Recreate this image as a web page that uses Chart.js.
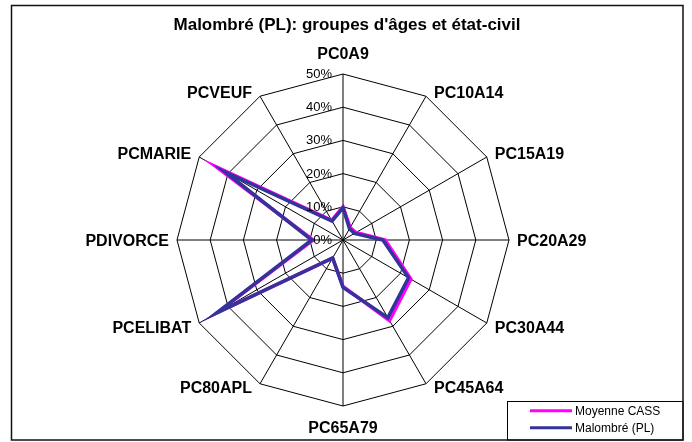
<!DOCTYPE html>
<html><head><meta charset="utf-8">
<script src="https://cdn.jsdelivr.net/npm/chart.js@4"></script>
<style>html,body{margin:0;padding:0;background:#fff}canvas{display:block}</style>
</head><body>
<canvas id="c" width="692" height="442"></canvas>
<script>
const categories = ['PC0A9','PC10A14','PC15A19','PC20A29','PC30A44','PC45A64','PC65A79','PC80APL','PCELIBAT','PDIVORCE','PCMARIE','PCVEUF'];
const moyenneCASS = [10, 4.3, 4.5, 12.7, 23.6, 28, 14, 6.3, 43.5, 9, 44, 6.8];
const malombre = [9.7, 3.9, 4, 12, 22.8, 27, 14.3, 6.2, 44, 9.4, 41, 6.6];
const tickValues = [0, 10, 20, 30, 40, 50];
const tickLabels = ['0%', '10%', '20%', '30%', '40%', '50%'];
const seriesNames = ['Moyenne CASS', 'Malombré (PL)'];
const seriesColors = ['#FF00FF', '#333399'];
const titleText = "Malombré (PL): groupes d'âges et état-civil";

const FONT = '"Liberation Sans", Arial, sans-serif';

const overlay = {
  id: 'overlay',
  afterDraw(chart) {
    const ctx = chart.ctx;
    const r = chart.scales.r;
    ctx.save();
    ctx.fillStyle = '#000';
    // title
    ctx.font = 'bold 17px ' + FONT;
    ctx.textAlign = 'center';
    ctx.textBaseline = 'alphabetic';
    ctx.fillText(titleText, 347, 30);
    // tick labels
    ctx.font = '13px ' + FONT;
    ctx.textAlign = 'right';
    tickValues.forEach((v, i) => {
      const p = r.getPointPositionForValue(0, v);
      ctx.fillText(tickLabels[i], p.x - 11, p.y + 4);
    });
    // point labels
    ctx.font = 'bold 16px ' + FONT;
    categories.forEach((lab, i) => {
      const p = r.getPointPosition(i, r.drawingArea);
      const dx = p.x - r.xCenter, dy = p.y - r.yCenter;
      let x = p.x, y, align;
      if (Math.abs(dx) < 1) {
        align = 'center';
        y = dy < 0 ? p.y - 15.5 : p.y + 27;
      } else {
        align = dx > 0 ? 'left' : 'right';
        x = p.x + (dx > 0 ? 8 : -8);
        y = Math.abs(dy) < 1 ? p.y + 5.7 : (dy < 0 ? p.y + 1.7 : p.y + 9.7);
      }
      ctx.textAlign = align;
      ctx.fillText(lab, x, y);
    });
    // legend
    ctx.fillStyle = '#fff';
    ctx.fillRect(507.5, 401.5, 175.5, 38.5);
    ctx.strokeStyle = '#000';
    ctx.lineWidth = 1;
    ctx.strokeRect(507.5, 401.5, 175.5, 38.5);
    ctx.font = '12px ' + FONT;
    ctx.textAlign = 'left';
    chart.data.datasets.forEach((ds, i) => {
      const y = 410.7 + i * 17;
      ctx.strokeStyle = ds.borderColor;
      ctx.lineWidth = 3;
      ctx.beginPath();
      ctx.moveTo(530, y);
      ctx.lineTo(572, y);
      ctx.stroke();
      ctx.fillStyle = '#000';
      ctx.fillText(ds.label, 575, y + 4.3);
    });
    // frame
    ctx.strokeStyle = '#111';
    ctx.lineWidth = 1.5;
    ctx.strokeRect(11.5, 5.5, 671.5, 434.5);
    ctx.restore();
  }
};

new Chart(document.getElementById('c'), {
  type: 'radar',
  data: {
    labels: categories,
    datasets: [
      { label: seriesNames[0], data: moyenneCASS, borderColor: seriesColors[0], backgroundColor: 'transparent', borderWidth: 3.5, fill: false, pointRadius: 0, pointHoverRadius: 0, order: 2 },
      { label: seriesNames[1], data: malombre, borderColor: seriesColors[1], backgroundColor: 'transparent', borderWidth: 3.5, fill: false, pointRadius: 0, pointHoverRadius: 0, order: 1 }
    ]
  },
  options: {
    responsive: false,
    animation: false,
    devicePixelRatio: 1,
    layout: { padding: { left: 177, right: 183, top: 74, bottom: 36 } },
    elements: { line: { tension: 0 } },
    plugins: { legend: { display: false }, title: { display: false }, tooltip: { enabled: false } },
    scales: {
      r: {
        min: 0, max: 50,
        ticks: { display: false, stepSize: 10 },
        pointLabels: { display: false },
        grid: { color: '#000', lineWidth: 1, circular: false },
        angleLines: { color: '#000', lineWidth: 1 }
      }
    }
  },
  plugins: [overlay]
});
</script>
</body></html>
